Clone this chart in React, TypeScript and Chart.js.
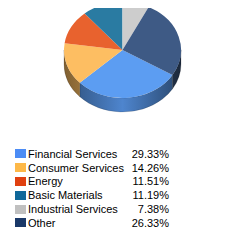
import React, { useEffect, useRef } from "react";
import { Chart, registerables } from "chart.js";

Chart.register(...registerables);

const labels = [
  "Financial Services",
  "Consumer Services",
  "Energy",
  "Basic Materials",
  "Industrial Services",
  "Other",
];
const values = [29.33, 14.26, 11.51, 11.19, 7.38, 26.33];
const pieColors = ["#5C9DF2", "#FDBE62", "#E8622E", "#2A7BA2", "#CDCDCD", "#3E5A85"];
const swatchColors = ["#4C8CF5", "#FDB848", "#E04010", "#10689A", "#C0C0C0", "#1A3868"];
const percentLabels = ["29.33%", "14.26%", "11.51%", "11.19%", "7.38%", "26.33%"];

const FACE_Y = 42; // canvas y of the top face centre
const TILT = 0.82;
const DEPTH = 14;

function shade(hex: string, f: number): string {
  const n = parseInt(hex.slice(1), 16);
  const r = Math.round(((n >> 16) & 255) * f);
  const g = Math.round(((n >> 8) & 255) * f);
  const b = Math.round((n & 255) * f);
  return `rgb(${Math.min(255, r)},${Math.min(255, g)},${Math.min(255, b)})`;
}

const pie3d = {
  id: "pie3d",
  beforeDatasetsDraw(chart: any) {
    const ctx = chart.ctx as CanvasRenderingContext2D;
    const meta = chart.getDatasetMeta(0);
    const arcs = meta.data as any[];
    ctx.save();
    if (!arcs.length) return;
    const cx = arcs[0].x;
    const cy = arcs[0].y;
    const R = arcs[0].outerRadius;
    const ry = R * TILT;
    const TWO = Math.PI * 2;
    arcs.forEach((arc, i) => {
      const s = arc.startAngle;
      const e = arc.endAngle;
      for (let n = -2; n <= 2; n++) {
        const lo = Math.max(s, TWO * n);
        const hi = Math.min(e, TWO * n + Math.PI);
        if (hi > lo) {
          const a0 = lo - TWO * n;
          const a1 = hi - TWO * n;
          ctx.beginPath();
          ctx.ellipse(cx, FACE_Y, R, ry, 0, a0, a1, false);
          ctx.ellipse(cx, FACE_Y + DEPTH, R, ry, 0, a1, a0, true);
          ctx.closePath();
          const col = pieColors[i % pieColors.length];
          const g = ctx.createLinearGradient(cx - R, 0, cx + R, 0);
          g.addColorStop(0, shade(col, 0.5));
          g.addColorStop(0.5, shade(col, 0.85));
          g.addColorStop(1, shade(col, 0.45));
          ctx.fillStyle = g;
          ctx.fill();
          ctx.strokeStyle = "rgba(0,0,0,0.25)";
          ctx.lineWidth = 0.6;
          ctx.stroke();
        }
      }
    });
    ctx.translate(0, FACE_Y);
    ctx.scale(1, TILT);
    ctx.translate(0, -cy);
  },
  afterDatasetsDraw(chart: any) {
    chart.ctx.restore();
  },
};

export default function App() {
  const ref = useRef<HTMLCanvasElement>(null);
  useEffect(() => {
    if (!ref.current) return;
    const chart = new Chart(ref.current, {
      type: "pie",
      data: {
        labels,
        datasets: [
          {
            data: values,
            backgroundColor: pieColors,
            borderWidth: 0,
            radius: 58.5,
            clip: false,
          } as any,
        ],
      },
      options: {
        animation: false,
        responsive: false,
        rotation: 121.3,
        events: [],
        plugins: { legend: { display: false }, tooltip: { enabled: false } },
        layout: { padding: 0 },
      },
      plugins: [pie3d],
    });
    return () => chart.destroy();
  }, []);

  return (
    <div style={{ position: "relative", width: 229, height: 229 }}>
      <canvas ref={ref} width={229} height={120} style={{ display: "block", width: 229, height: 120 }} />
      <div
        style={{
          position: "absolute",
          left: 7,
          top: 139,
          fontFamily: "'Liberation Sans', Arial, sans-serif",
          fontSize: 11,
          color: "#000",
        }}
      >
        {labels.map((l, i) => (
          <div key={l} style={{ display: "flex", alignItems: "center", height: 13.8 }}>
            <div style={{ width: 11, height: 9, background: swatchColors[i], marginRight: 2 }} />
            <div style={{ width: 100, whiteSpace: "nowrap" }}>{l}</div>
            <div style={{ width: 41, textAlign: "right" }}>{percentLabels[i]}</div>
          </div>
        ))}
      </div>
    </div>
  );
}
